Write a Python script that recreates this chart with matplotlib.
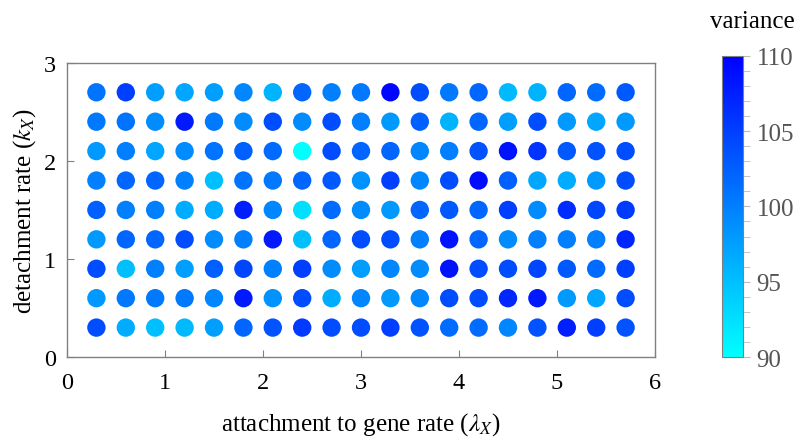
"""Variance over the (lambda_X, k_X) parameter grid, coloured dot map."""
import matplotlib
matplotlib.use("Agg")
import matplotlib.pyplot as plt
import numpy as np
from matplotlib.colors import LinearSegmentedColormap
from matplotlib.ticker import MultipleLocator

plt.rcParams["font.family"] = ["Liberation Serif", "DejaVu Serif"]
plt.rcParams["mathtext.fontset"] = "stix"

# grid of parameter values
lambda_x = [0.3, 0.6, 0.9, 1.2, 1.5, 1.8, 2.1, 2.4, 2.7, 3.0,
            3.3, 3.6, 3.9, 4.2, 4.5, 4.8, 5.1, 5.4, 5.7]
k_x = [2.7, 2.4, 2.1, 1.8, 1.5, 1.2, 0.9, 0.6, 0.3]

# variance, one row per k_x (top row first)
var_k27 = [101, 105, 97.5, 97, 97.5, 99.5, 96, 102, 100, 100.5,
           109.5, 104, 100.5, 102, 95.5, 96, 102, 101.5, 103]
var_k24 = [100.5, 101, 99, 108, 100.5, 99, 104, 99, 104, 100,
           98, 102.5, 96, 102, 97.5, 104, 98, 97, 98]
var_k21 = [98, 100, 97, 99, 101, 102.5, 101.5, 90, 104, 102,
           102, 99.5, 100, 103.5, 108.5, 106, 103, 103.5, 104]
var_k18 = [100, 102, 102, 100, 95, 101, 100.5, 102, 103, 98.5,
           105, 99.5, 104, 109, 102.5, 97, 96.5, 98, 104]
var_k15 = [102.5, 100, 100, 96.5, 96.5, 107.5, 99.5, 92.5, 101.5, 99,
           98, 102, 103, 102, 105, 99, 106.5, 104.5, 105.5]
var_k12 = [98, 102, 102, 104, 99, 100, 108, 95, 102, 104,
           104, 100, 108.5, 102, 99, 100, 100, 100, 107]
var_k09 = [104, 95, 100, 97.5, 102.5, 104.5, 100, 105, 99, 97.5,
           99.5, 99, 108.5, 104, 104, 104.5, 103, 101.5, 105]
var_k06 = [98, 100.5, 100.5, 100.5, 99.5, 108, 98.5, 104, 96.5, 99.5,
           98, 99.5, 104, 104, 107, 108, 98, 97, 104]
var_k03 = [104, 96.5, 95, 95.5, 97.5, 102, 103.5, 105.5, 104, 104,
           105, 103.5, 101.5, 101.5, 99.5, 103.5, 107.5, 105, 103.5]

variance = np.array([var_k27, var_k24, var_k21, var_k18, var_k15,
                     var_k12, var_k09, var_k06, var_k03])
xx, yy = np.meshgrid(lambda_x, k_x)

cmap = LinearSegmentedColormap.from_list("cyan_blue", ["#00ffff", "#0000ff"])
GRAY = "#808080"

fig = plt.figure(figsize=(8.0, 4.39), dpi=100)
ax = fig.add_axes([0.08375, 0.1845, 0.735, 0.670])
sc = ax.scatter(xx.ravel(), yy.ravel(), c=variance.ravel(), cmap=cmap,
                vmin=90, vmax=110, s=175, edgecolors="none", zorder=3)

ax.set_xlim(0, 6)
ax.set_ylim(0, 3)
ax.xaxis.set_major_locator(MultipleLocator(1))
ax.yaxis.set_major_locator(MultipleLocator(1))
ax.tick_params(direction="in", length=5, color=GRAY, labelsize=17.5,
               top=False, right=False)
ax.tick_params(axis="x", pad=11)
ax.tick_params(axis="y", pad=8)
for sp in ax.spines.values():
    sp.set_color(GRAY)
    sp.set_linewidth(1.0)
ax.set_xlabel(r"attachment to gene rate ($\lambda_X$)", fontsize=18, labelpad=12)
ax.set_ylabel(r"detachment rate ($k_X$)", fontsize=18, labelpad=4)

cax = fig.add_axes([0.9025, 0.1845, 0.026, 0.686])
cb = fig.colorbar(sc, cax=cax, ticks=[90, 95, 100, 105, 110])
cb.outline.set_edgecolor(GRAY)
cb.outline.set_linewidth(0.8)
cax.yaxis.set_minor_locator(MultipleLocator(1))
cax.tick_params(which="both", direction="out", length=5, color="#bbbbbb",
                labelsize=18, labelcolor="#555555", pad=5)
cax.set_title("variance", fontsize=18, pad=21, x=1.45)

fig.savefig("out.png", dpi=100)
